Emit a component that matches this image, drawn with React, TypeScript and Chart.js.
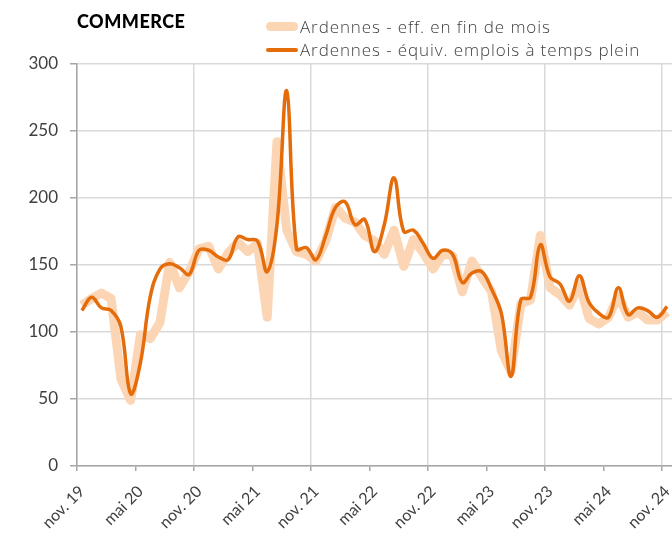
import { useEffect, useRef } from 'react';
import { Chart, registerables } from 'chart.js';

Chart.register(...registerables);

const TICK_LABELS = ['nov. 19', 'mai 20', 'nov. 20', 'mai 21', 'nov. 21', 'mai 22', 'nov. 22', 'mai 23', 'nov. 23', 'mai 24', 'nov. 24'];

// Monthly values, nov. 2019 -> nov. 2024
const EFF_FIN_MOIS = [
  120, 125, 129, 125, 65, 49, 98, 95, 107, 152, 133, 145,
  162, 164, 147, 159, 167, 160, 166, 111, 242, 176, 160, 158,
  153, 168, 193, 185, 182, 172, 168, 158, 176, 149, 169, 159,
  147, 158, 157, 130, 153, 141, 130, 86, 70, 121, 124, 172,
  133, 128, 120, 136, 110, 106, 111, 127, 111, 115, 109, 109,
  115,
];

const EQUIV_TEMPS_PLEIN = [
  116, 126, 118, 116, 104, 54, 77, 126, 147, 151, 148, 143,
  161, 161, 156, 154, 171, 169, 168, 145, 180, 280, 162, 163,
  154, 172, 193, 197, 180, 184, 160, 180, 215, 175, 176, 166,
  155, 161, 158, 137, 144, 145, 132, 114, 67, 124, 126, 165,
  141, 136, 123, 142, 122, 114, 111, 133, 113, 118, 116, 111,
  119,
];

const SERIES_NAMES = ['Ardennes - eff. en fin de mois', 'Ardennes - équiv. emplois à temps plein'];
const TITLE = 'COMMERCE';

const ORANGE = '#E46C0A';
const LIGHT = '#FCD5B5';
const TEXT = '#404040';
const FONT = 'Lato, "Open Sans", sans-serif';
const LEGEND_FONT = '"Open Sans", Lato, sans-serif';

export default function App() {
  const ref = useRef<HTMLCanvasElement>(null);

  useEffect(() => {
    const chart = new Chart(ref.current as HTMLCanvasElement, {
      type: 'line',
      data: {
        datasets: [
          {
            label: SERIES_NAMES[1],
            data: EQUIV_TEMPS_PLEIN.map((v, i) => ({ x: i + 0.5, y: v })),
            borderColor: ORANGE,
            backgroundColor: ORANGE,
            borderWidth: 3.5,
            tension: 0.4,
            pointRadius: 0,
            order: 0,
            borderJoinStyle: 'round',
          },
          {
            label: SERIES_NAMES[0],
            data: EFF_FIN_MOIS.map((v, i) => ({ x: i + 0.5, y: v })),
            borderColor: LIGHT,
            backgroundColor: LIGHT,
            borderWidth: 9,
            tension: 0,
            pointRadius: 0,
            order: 1,
            borderJoinStyle: 'round',
          },
        ],
      },
      options: {
        animation: false,
        responsive: false,
        layout: { padding: { top: 64, left: 0, right: 0, bottom: 0 } },
        plugins: { legend: { display: false }, tooltip: { enabled: false }, title: { display: false } },
        scales: {
          x: {
            type: 'linear',
            min: 0,
            max: 61,
            border: { color: '#a6a6a6', width: 1.5 },
            grid: {
              color: (ctx: any) => (ctx.tick && ctx.tick.value % 12 === 0 ? '#d9d9d9' : 'rgba(0,0,0,0)'),
              tickColor: '#a6a6a6',
              tickLength: 5,
              lineWidth: 1.5,
            },
            ticks: {
              stepSize: 6,
              includeBounds: false,
              autoSkip: false,
              maxRotation: 45,
              minRotation: 45,
              padding: 11,
              labelOffset: 5,
              color: TEXT,
              font: { family: FONT, size: 16 },
              callback: (v: any) => TICK_LABELS[Math.round(Number(v) / 6)] ?? '',
            },
            afterFit: (s: any) => {
              s.height = 67;
              s.paddingLeft = 0;
              s.paddingRight = 0;
            },
          },
          y: {
            min: 0,
            max: 300,
            border: { color: '#a6a6a6', width: 1.5 },
            grid: { color: '#d9d9d9', tickColor: '#a6a6a6', tickLength: 7, lineWidth: 1.5 },
            ticks: {
              stepSize: 50,
              padding: 12,
              color: TEXT,
              font: { family: FONT, size: 17 },
            },
            afterFit: (s: any) => {
              s.width = 77;
              s.paddingTop = 0;
              s.paddingBottom = 0;
            },
          },
        },
      },
    });
    return () => chart.destroy();
  }, []);

  return (
    <div style={{ position: 'fixed', left: 0, top: 0, width: 672, height: 533, background: '#fff', fontFamily: FONT }}>
      <canvas ref={ref} width={672} height={533} style={{ position: 'absolute', left: 0, top: 0 }} />
      <div style={{ position: 'absolute', left: 77, top: 10, fontSize: 18, fontWeight: 900, color: '#000', letterSpacing: 0.5, lineHeight: '22px' }}>{TITLE}</div>
      <div style={{ position: 'absolute', left: 266, top: 15, color: TEXT, fontSize: 17, fontWeight: 300, letterSpacing: 0.9, lineHeight: '23px', fontFamily: LEGEND_FONT }}>
        <div style={{ display: 'flex', alignItems: 'center' }}>
          <span style={{ display: 'inline-block', width: 32, height: 9, borderRadius: 4.5, background: LIGHT, marginRight: 2 }} />
          <span>{SERIES_NAMES[0]}</span>
        </div>
        <div style={{ display: 'flex', alignItems: 'center' }}>
          <span style={{ display: 'inline-block', width: 32, height: 4, borderRadius: 2, background: ORANGE, marginRight: 2 }} />
          <span>{SERIES_NAMES[1]}</span>
        </div>
      </div>
    </div>
  );
}
